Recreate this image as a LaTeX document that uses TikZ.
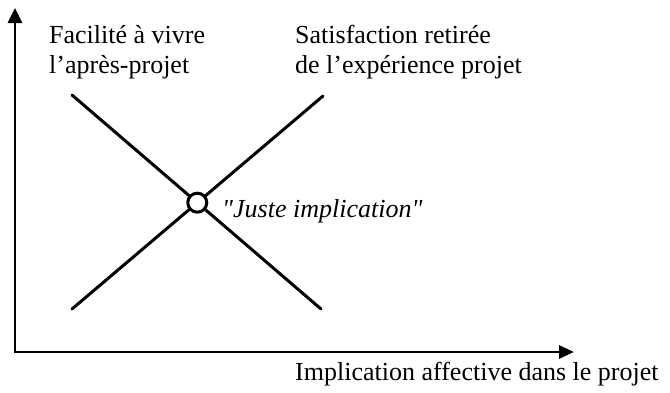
\documentclass[tikz,border=0pt]{standalone}
\usepackage{fontspec}
\setmainfont{Liberation Serif}
\newfontfamily\plainserif{Liberation Serif}
\usetikzlibrary{arrows.meta,positioning,calc}
\tikzset{
  axe/.style={{Triangle[length=15pt,width=14pt]}-{Triangle[length=15pt,width=13pt]},
              line width=2.8pt,line join=miter},
  courbe/.style={line width=3pt,line cap=round},
  lbl/.style={font=\fontsize{26}{30}\selectfont,inner sep=0pt,anchor=base west},
  lblit/.style={lbl,font=\fontsize{26}{30}\selectfont\plainserif\itshape},
  pt/.style={circle,draw,line width=3pt,fill=white,minimum size=19pt,inner sep=0pt},
}
\begin{document}
\begin{tikzpicture}[x=1pt,y=-1pt]
  \useasboundingbox (0,0) rectangle (670,392);
  % axes
  \coordinate (O)    at (15,352);
  \coordinate (Ytop) at (15,8);
  \coordinate (Xend) at (574,352);
  \draw[axe] (Ytop) -- (O) -- (Xend);

  % les deux droites
  \coordinate (FacH) at (72,95);
  \coordinate (FacB) at (321,309);
  \coordinate (SatB) at (72,309);
  \coordinate (SatH) at (323,96);
  \draw[courbe] (FacH) -- (FacB);
  \draw[courbe] (SatB) -- (SatH);
  \node[pt] (J) at (intersection of FacH--FacB and SatB--SatH) {};

  % textes
  \node[lbl] (fac1) at (49,43) {Facilité à vivre};
  \node[lbl,below=30pt of fac1.base west,anchor=base west] (fac2) {l’après-projet};
  \node[lbl] (sat1) at (295,43) {Satisfaction retirée};
  \node[lbl,below=30pt of sat1.base west,anchor=base west] (sat2) {de l’expérience projet};
  \node[lblit] (juste) at (222,217) {"Juste implication"};
  \node[lbl] (xlbl) at (295,380) {Implication affective dans le projet};
\end{tikzpicture}
\end{document}
